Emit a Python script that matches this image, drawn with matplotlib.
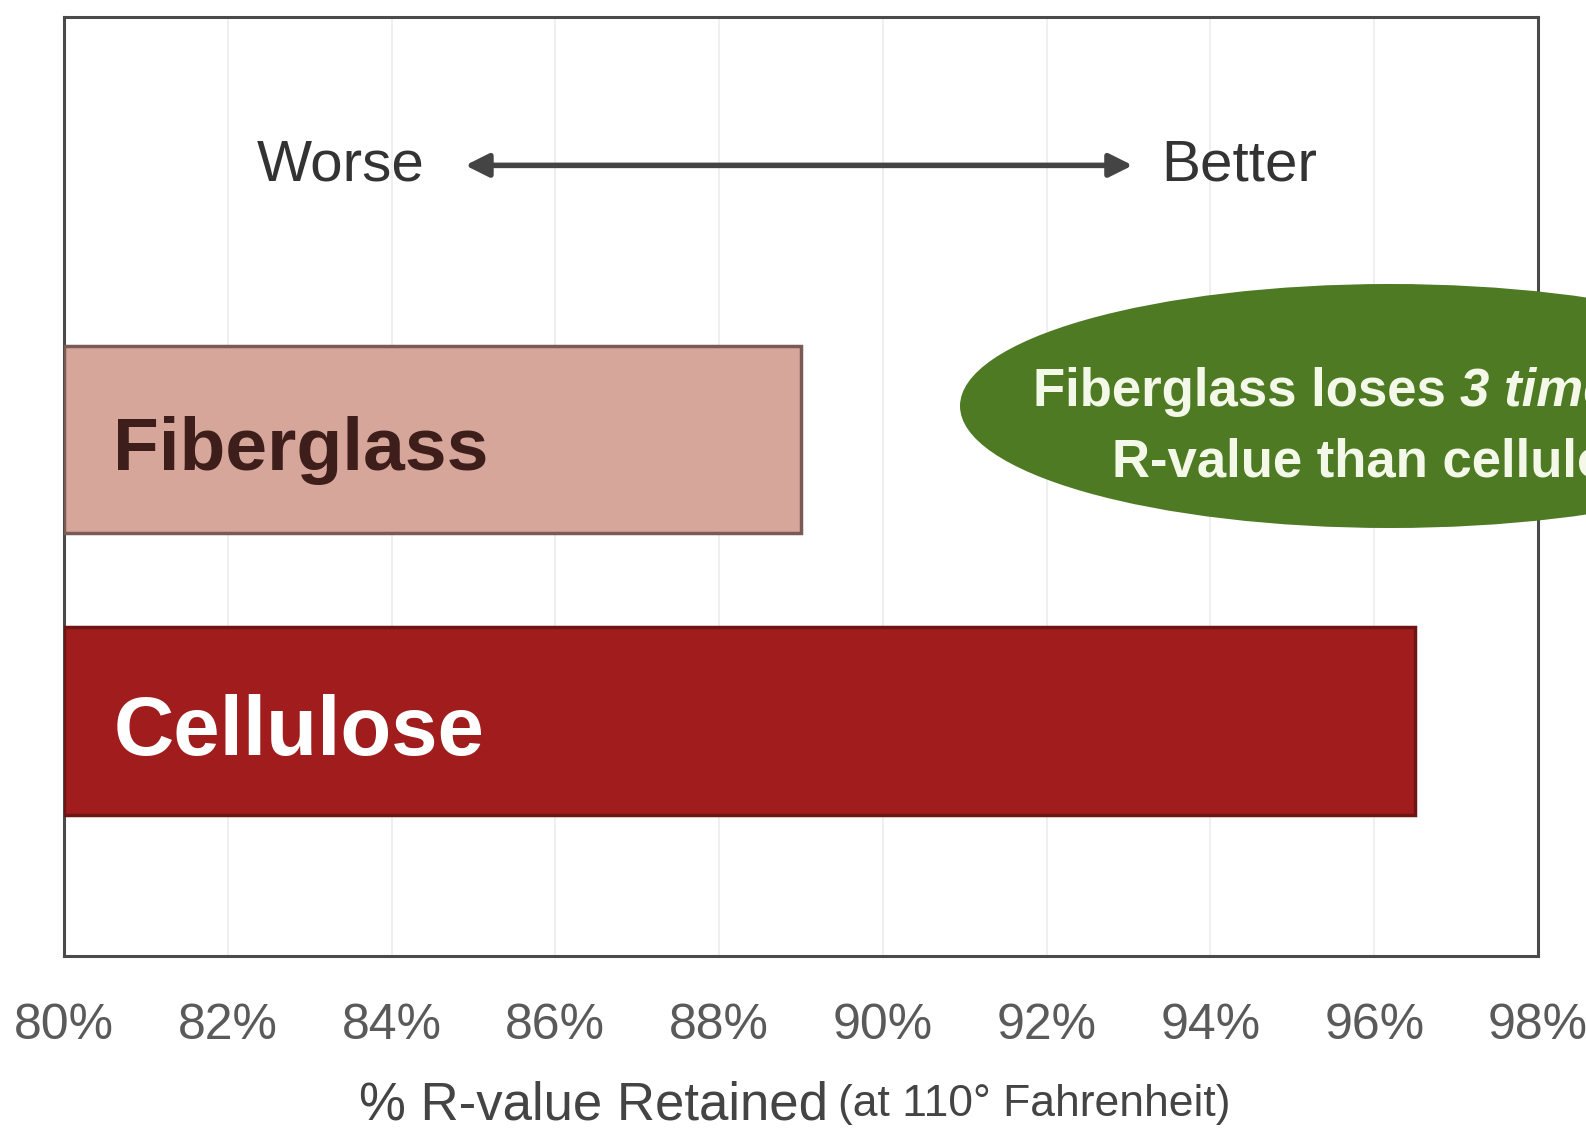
import matplotlib
matplotlib.use("Agg")
import matplotlib.pyplot as plt
from matplotlib.patches import Ellipse

# data
materials = ["Fiberglass", "Cellulose"]
retained = [89.0, 96.5]
ticks = [80, 82, 84, 86, 88, 90, 92, 94, 96, 98]
tick_labels = [str(t) + "%" for t in ticks]

bar_colors = ["#d6a69b", "#a11d1d"]
edge_colors = ["#7a5a55", "#6e1414"]
text_colors = ["#3e1e1a", "white"]
label_sizes = [54, 60]
ypos = [0.55, 0.25]

plt.rcParams['font.family'] = ['Liberation Sans', 'DejaVu Sans']

fig = plt.figure(figsize=(15.86, 11.36), dpi=100)
ax = fig.add_axes([64/1586, 1 - 956/1136, (1538-64)/1586, (956-17)/1136])

for i in range(len(materials)):
    ax.barh(ypos[i], retained[i] - 80, left=80, height=0.2,
            color=bar_colors[i], edgecolor=edge_colors[i], linewidth=2.5, zorder=3)
    ax.text(80.6, ypos[i] - 0.012, materials[i], fontsize=label_sizes[i], fontweight='bold',
            color=text_colors[i], va='center', ha='left', zorder=4)

ax.set_xlim(80, 98)
ax.set_ylim(0, 1)
ax.set_xticks(ticks)
ax.set_xticklabels(tick_labels, fontsize=36, color='#5a5a5a')
ax.tick_params(axis='x', length=0, pad=34)
ax.set_yticks([])
ax.grid(axis='x', color='#ececec', linewidth=1.2, zorder=0)
for s in ax.spines.values():
    s.set_color('#4a4a4a')
    s.set_linewidth(2.2)

# worse / better arrow
ax.annotate("", xy=(84.9, 0.842), xytext=(93.05, 0.842),
            arrowprops=dict(arrowstyle='<|-|>', color='#444444', lw=4,
                            mutation_scale=35, shrinkA=0, shrinkB=0))
ax.text(84.4, 0.842, "Worse", fontsize=42, color='#333333', ha='right', va='center')
ax.text(93.4, 0.842, "Better", fontsize=42, color='#333333', ha='left', va='center')

# green callout (runs off the right edge, like the original)
ell = Ellipse((1390/1586, 1 - 406/1136), 860/1586, 244/1136,
              transform=fig.transFigure, facecolor='#4d7a22', edgecolor='none', zorder=5)
fig.patches.append(ell)
t1 = fig.text(1033/1586, 1 - 392/1136, "Fiberglass loses ", fontsize=38, color='#f4f8e8',
              fontweight='bold', ha='left', va='center', zorder=6)
fig.text(1112/1586, 1 - 462/1136, "R-value than cellulose", fontsize=38, color='#f4f8e8',
         fontweight='bold', ha='left', va='center', zorder=6)

# x label
xl = fig.text(359/1586, 1 - 1106/1136, "% R-value Retained", fontsize=38, color='#444444',
              ha='left', va='center')

# place the follow-on text pieces right after their first parts
fig.canvas.draw()
r = fig.canvas.get_renderer()
bb = t1.get_window_extent(r)
fig.text(bb.x1 / 1586, 1 - 392/1136, "3 times more", fontsize=38, color='#f4f8e8',
         fontweight='bold', fontstyle='italic', ha='left', va='center', zorder=6)
bb2 = xl.get_window_extent(r)
fig.text(bb2.x1 / 1586 + 10/1586, bb2.y0 / 1136 + 6/1136, "(at 110° Fahrenheit)",
         fontsize=32, color='#444444', ha='left', va='bottom')

fig.savefig("out.png", dpi=100)
